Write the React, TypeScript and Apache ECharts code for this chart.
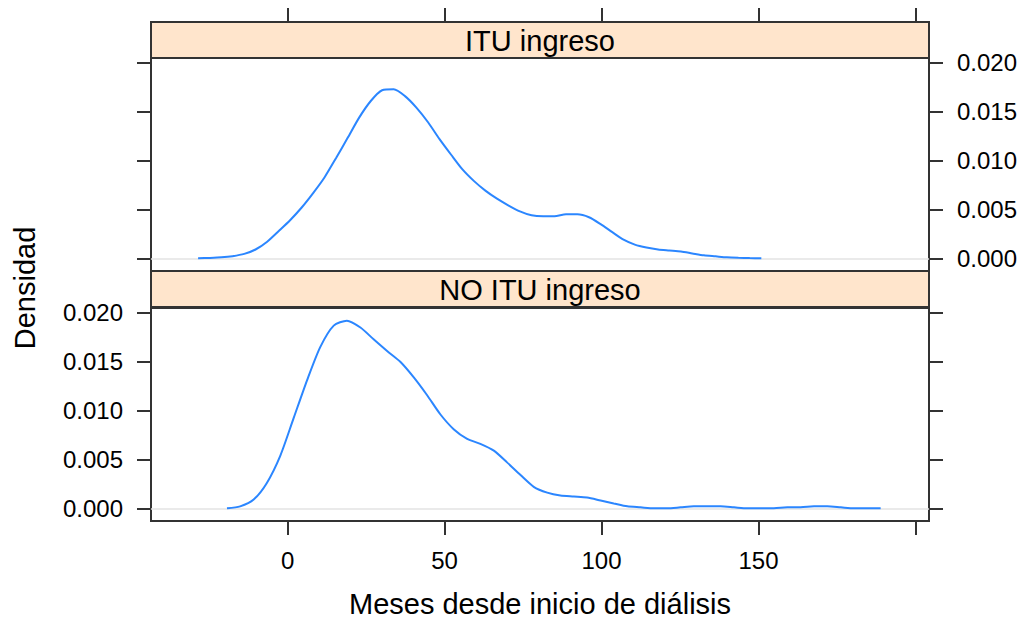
import React, { useEffect, useRef } from "react";
import * as echarts from "echarts";

// Axis ticks and labels
const xTicks = [0, 50, 100, 150, 200];
const xTickLabels = [0, 50, 100, 150];
const yTicks = [0, 0.005, 0.01, 0.015, 0.02];
const panelTitles = ["ITU ingreso", "NO ITU ingreso"];
const xTitle = "Meses desde inicio de diálisis";
const yTitle = "Densidad";

// Kernel density estimate, ITU ingreso
const ituX = [
  -28.5, -24.8, -21.1, -17.5, -13.8, -10.2, -6.5, -2.8, 0.8, 4.5, 8.2, 11.8, 15.5, 19.1, 22.8, 26.5,
  30.1, 33.8, 37.4, 41.1, 44.8, 48.4, 52.1, 55.7, 59.4, 63.1, 66.7, 70.4, 74.0, 77.7, 81.4, 85.0,
  88.7, 92.3, 96.0, 99.7, 103.3, 107.0, 110.6, 114.3, 118.0, 121.6, 125.3, 128.9, 132.6, 136.3,
  139.9, 143.6, 147.2, 150.9,
];
const ituY = [
  0, 0.00004, 0.0001, 0.00022, 0.00045, 0.0009, 0.0017, 0.0028, 0.0039, 0.0052, 0.0067, 0.0083,
  0.0103, 0.0123, 0.0144, 0.0161, 0.0172, 0.0173, 0.0166, 0.0154, 0.0139, 0.0122, 0.0106, 0.0091,
  0.0079, 0.0069, 0.0061, 0.0054, 0.0048, 0.0044, 0.0043, 0.0043, 0.0045, 0.0045, 0.0042, 0.0035,
  0.0027, 0.0019, 0.0014, 0.0011, 0.0009, 0.0008, 0.0007, 0.0005, 0.0003, 0.0002, 0.0001, 0.00005,
  0.00002, 0,
];

// Kernel density estimate, NO ITU ingreso
const noItuX = [
  -19.3, -15.1, -10.8, -6.6, -2.3, 1.9, 6.2, 10.4, 14.7, 18.9, 23.2, 27.4, 31.7, 35.9, 40.2, 44.4,
  48.7, 52.9, 57.2, 61.4, 65.7, 69.9, 74.2, 78.4, 82.7, 86.9, 91.2, 95.4, 99.7, 103.9, 108.2, 112.4,
  116.7, 120.9, 125.2, 129.4, 133.7, 137.9, 142.2, 146.4, 150.7, 154.9, 159.2, 163.4, 167.7, 171.9,
  176.2, 180.4, 184.7, 188.9,
];
const noItuY = [
  0, 0.0002, 0.0009, 0.0026, 0.0054, 0.0092, 0.0131, 0.0165, 0.0187, 0.0192, 0.0185, 0.0173, 0.0161,
  0.015, 0.0134, 0.0116, 0.0096, 0.0081, 0.0071, 0.0066, 0.0059, 0.0047, 0.0034, 0.0022, 0.0016,
  0.0013, 0.0012, 0.0011, 0.0008, 0.0005, 0.0002, 0.0001, 0, 0, 0.0001, 0.0002, 0.0002, 0.0002,
  0.0001, 0, 0, 0, 0.0001, 0.0001, 0.0002, 0.0002, 0.0001, 0, 0, 0,
];

const FONT = "'Liberation Sans', Arial, Helvetica, sans-serif";
const INK = "#333333";
const CURVE = "#2b86ff";
const STRIP_FILL = "#ffe5cc";

const X_MIN = -43.5;
const X_MAX = 204.3;
const Y_MIN = -0.0013;
const Y_MAX = 0.0205;

const PANEL_LEFT = 151;
const PANEL_RIGHT = 929;
const PANEL_W = PANEL_RIGHT - PANEL_LEFT;
const STRIP_H = 36;
const PANEL_H = 213;
const TOP_STRIP_Y = 22;
const TOP_PANEL_Y = TOP_STRIP_Y + STRIP_H; // 58
const LOW_STRIP_Y = TOP_PANEL_Y + PANEL_H; // 271
const LOW_PANEL_Y = LOW_STRIP_Y + STRIP_H + 1; // 308

const pairs = (xs: number[], ys: number[]) => xs.map((x, i) => [x, ys[i]]);

const tickStyle = { show: true, length: 14, inside: false, lineStyle: { color: INK, width: 2 } };
const labelStyle = { color: "#000", fontSize: 24, fontFamily: FONT };
const hiddenLine = { show: false, onZero: false };

function yAxisFor(gridIndex: number, position: "left" | "right", withLabels: boolean) {
  return {
    type: "value",
    gridIndex,
    position,
    min: Y_MIN,
    max: Y_MAX,
    splitLine: { show: false },
    axisLine: hiddenLine,
    axisTick: { ...tickStyle, customValues: yTicks },
    axisLabel: {
      show: withLabels,
      customValues: yTicks,
      margin: 28,
      formatter: (v: number) => v.toFixed(3),
      ...labelStyle,
    },
  };
}

function densitySeries(xAxisIndex: number, yAxisIndex: number, data: number[][]) {
  return {
    type: "line",
    xAxisIndex,
    yAxisIndex,
    data,
    showSymbol: false,
    smooth: 0.25,
    lineStyle: { color: CURVE, width: 2 },
    silent: true,
    markLine: {
      silent: true,
      symbol: "none",
      label: { show: false },
      lineStyle: { color: "#e3e3e3", width: 1.5, type: "solid" },
      data: [{ yAxis: 0 }],
      z: 1,
    },
  };
}

function stripGraphic(y: number, title: string) {
  return [
    {
      type: "rect",
      shape: { x: PANEL_LEFT, y, width: PANEL_W, height: STRIP_H },
      style: { fill: STRIP_FILL, stroke: INK, lineWidth: 2 },
      z: 10,
    },
    {
      type: "text",
      x: (PANEL_LEFT + PANEL_RIGHT) / 2,
      y: y + STRIP_H / 2 + 1,
      style: {
        text: title,
        fill: "#000",
        fontSize: 29,
        fontFamily: FONT,
        align: "center",
        verticalAlign: "middle",
      },
      z: 11,
    },
  ];
}

export default function App() {
  const ref = useRef<HTMLDivElement>(null);

  useEffect(() => {
    if (!ref.current) return;
    const chart = echarts.init(ref.current, undefined, { renderer: "svg" });

    const option = {
      animation: false,
      backgroundColor: "#ffffff",
      textStyle: { fontFamily: FONT },
      grid: [
        {
          left: PANEL_LEFT,
          top: TOP_PANEL_Y,
          width: PANEL_W,
          height: PANEL_H,
          show: true,
          borderColor: INK,
          borderWidth: 2,
          backgroundColor: "transparent",
        },
        {
          left: PANEL_LEFT,
          top: LOW_PANEL_Y,
          width: PANEL_W,
          height: PANEL_H,
          show: true,
          borderColor: INK,
          borderWidth: 2,
          backgroundColor: "transparent",
        },
      ],
      xAxis: [
        {
          type: "value",
          gridIndex: 0,
          position: "top",
          offset: STRIP_H,
          min: X_MIN,
          max: X_MAX,
          splitLine: { show: false },
          axisLine: hiddenLine,
          axisTick: { ...tickStyle, customValues: xTicks },
          axisLabel: { show: false },
        },
        {
          type: "value",
          gridIndex: 1,
          position: "bottom",
          min: X_MIN,
          max: X_MAX,
          splitLine: { show: false },
          axisLine: hiddenLine,
          axisTick: { ...tickStyle, customValues: xTicks },
          axisLabel: { customValues: xTickLabels, margin: 27, ...labelStyle },
          name: xTitle,
          nameLocation: "middle",
          nameGap: 68,
          nameTextStyle: { color: "#000", fontSize: 29, fontFamily: FONT },
        },
      ],
      yAxis: [
        yAxisFor(0, "left", false),
        yAxisFor(0, "right", true),
        yAxisFor(1, "left", true),
        yAxisFor(1, "right", false),
      ],
      series: [
        densitySeries(0, 0, pairs(ituX, ituY)),
        densitySeries(1, 2, pairs(noItuX, noItuY)),
      ],
      graphic: [
        ...stripGraphic(TOP_STRIP_Y, panelTitles[0]),
        ...stripGraphic(LOW_STRIP_Y, panelTitles[1]),
        {
          type: "text",
          x: 25,
          y: 288,
          rotation: Math.PI / 2,
          style: {
            text: yTitle,
            fill: "#000",
            fontSize: 29,
            fontFamily: FONT,
            align: "center",
            verticalAlign: "middle",
          },
        },
      ],
    };

    chart.setOption(option as any);
    return () => chart.dispose();
  }, []);

  return (
    <div
      ref={ref}
      style={{ position: "fixed", left: 0, top: 0, width: 1026, height: 626, background: "#fff" }}
    />
  );
}
